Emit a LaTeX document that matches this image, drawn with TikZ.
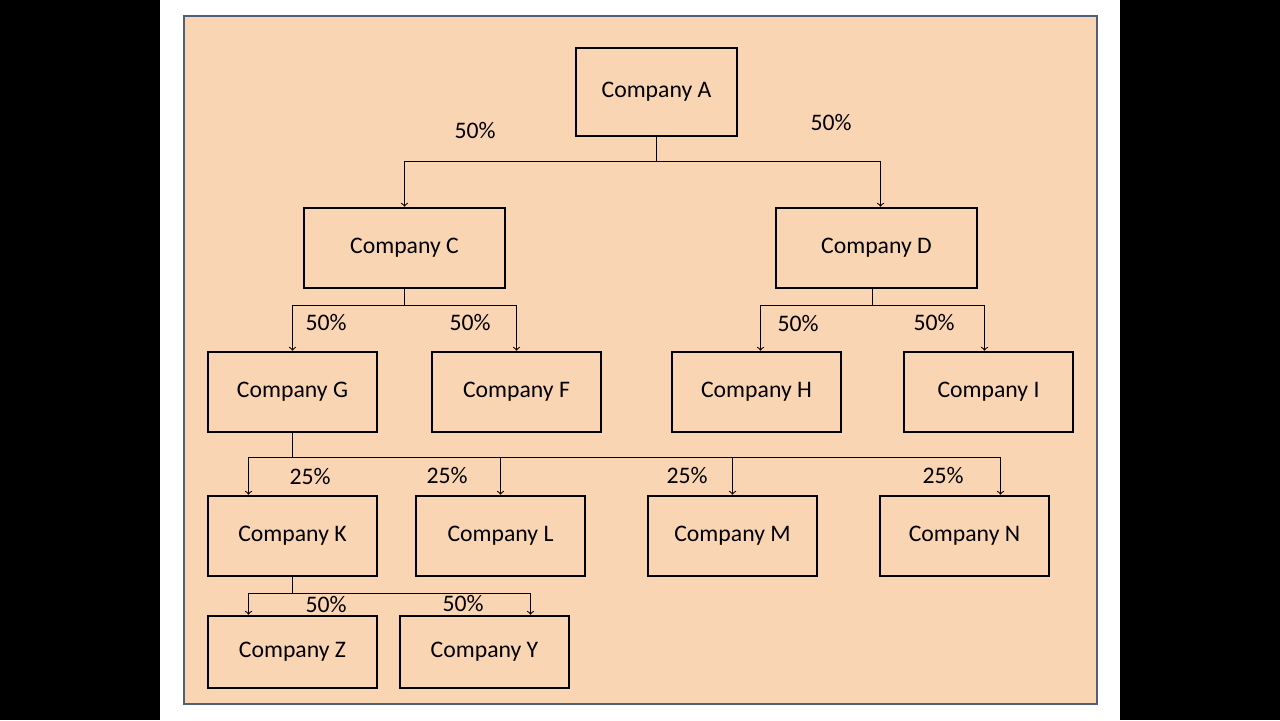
\documentclass[tikz,border=0pt]{standalone}
\usepackage{fontspec}
\setmainfont{Carlito}
\definecolor{peach}{RGB}{250,213,180}
\definecolor{frame}{RGB}{80,96,120}
\tikzset{
  company/.style={draw, line width=1.5pt, minimum width=3.38cm, minimum height=1.6cm, font=\fontsize{13.5}{16}\selectfont},
  wide/.style={company, minimum width=4.02cm},
  link/.style={->, line width=0.6pt},
  pct/.style={font=\fontsize{13.5}{16}\selectfont}
}
\begin{document}
\begin{tikzpicture}[x=0.02cm,y=-0.02cm]
  % page
  \fill[black] (0,0) rectangle (1280,720);
  \fill[white] (160,0) rectangle (1120,720);
  \draw[fill=peach, draw=frame, line width=1.5pt] (184,16) rectangle (1097,704);
  % companies
  \node[company, minimum width=3.22cm, minimum height=1.76cm] (A) at (656.5,92) {Company A};
  \node[wide] (C) at (404.5,248) {Company C};
  \node[wide] (D) at (876.5,248) {Company D};
  \node[company] (G) at (292.5,392) {Company G};
  \node[company] (F) at (516.5,392) {Company F};
  \node[company] (H) at (756.5,392) {Company H};
  \node[company] (I) at (988.5,392) {Company I};
  \node[company] (K) at (292.5,536) {Company K};
  \node[company] (L) at (500.5,536) {Company L};
  \node[company] (M) at (732.5,536) {Company M};
  \node[company] (N) at (964.5,536) {Company N};
  \node[company, minimum height=1.44cm] (Z) at (292.5,652) {Company Z};
  \node[company, minimum height=1.44cm] (Y) at (484.5,652) {Company Y};
  % links
  \draw[link] (A.south) -- ++(0,24) -| (C.north);
  \draw[link] (A.south) -- ++(0,24) -| ([xshift=0.08cm]D.north);
  \draw[link] (C.south) -- ++(0,16) -| (G.north);
  \draw[link] (C.south) -- ++(0,16) -| (F.north);
  \draw[link] ([xshift=-0.08cm]D.south) -- ++(0,16) -| ([xshift=0.08cm]H.north);
  \draw[link] ([xshift=-0.08cm]D.south) -- ++(0,16) -| ([xshift=-0.08cm]I.north);
  \draw[link] (G.south) -- ++(0,24) -| ([xshift=-0.88cm]K.north);
  \draw[link] (G.south) -- ++(0,24) -| (L.north);
  \draw[link] (G.south) -- ++(0,24) -| (M.north);
  \draw[link] (G.south) -- ++(0,24) -| ([xshift=0.72cm]N.north);
  \draw[link] (K.south) -- ++(0,16) -| ([xshift=-0.88cm]Z.north);
  \draw[link] (K.south) -- ++(0,16) -| ([xshift=0.92cm]Y.north);
  % percentages
  \node[pct] (pA1) at (475,131) {50\%};
  \node[pct] (pA2) at (831,123) {50\%};
  \node[pct] (pC1) at (326,323) {50\%};
  \node[pct] (pC2) at (470,323) {50\%};
  \node[pct] (pD1) at (798,324) {50\%};
  \node[pct] (pD2) at (934,323) {50\%};
  \node[pct] (pG1) at (310,476) {25\%};
  \node[pct] (pG2) at (447,475) {25\%};
  \node[pct] (pG3) at (687,475) {25\%};
  \node[pct] (pG4) at (943,475) {25\%};
  \node[pct] (pK1) at (326,604) {50\%};
  \node[pct] (pK2) at (463,603) {50\%};
\end{tikzpicture}
\end{document}
